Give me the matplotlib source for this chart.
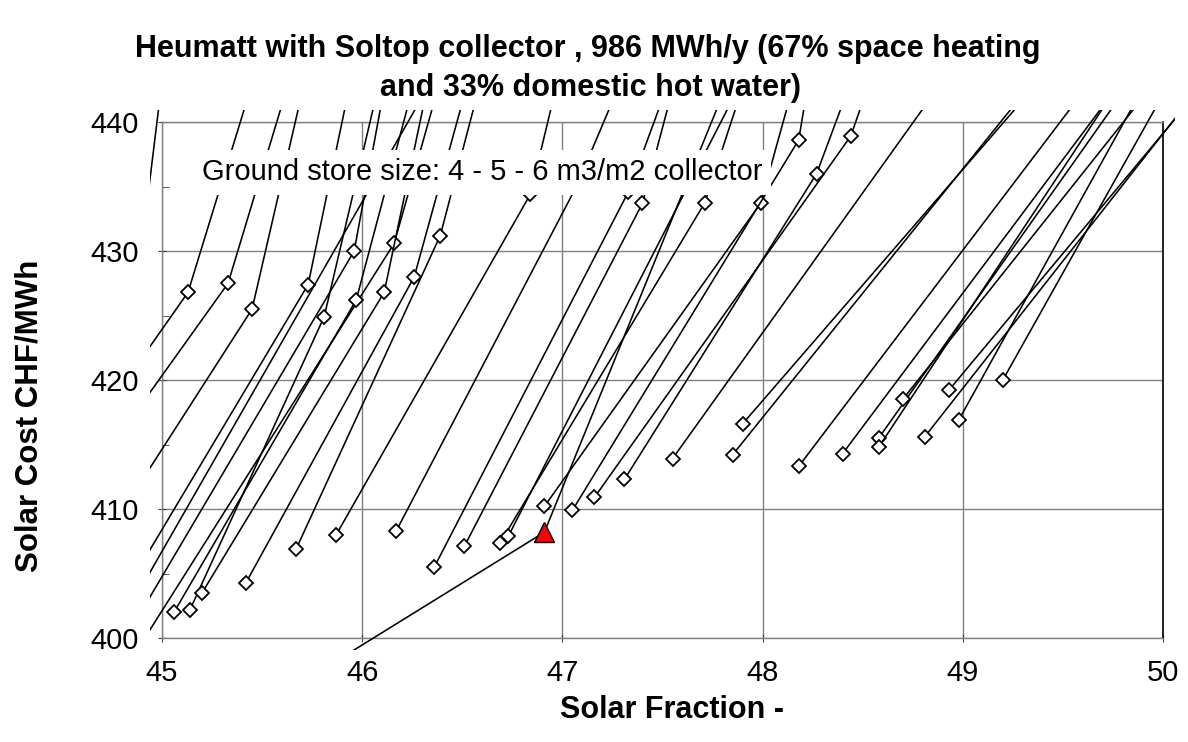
import matplotlib
matplotlib.use("Agg")
import matplotlib.pyplot as plt
import matplotlib.patches as mpatches
from matplotlib.ticker import MultipleLocator

plt.rcParams['font.family'] = ['Liberation Sans', 'DejaVu Sans']

# ---------------- data ----------------
title_line1 = "Heumatt with Soltop collector , 986 MWh/y (67% space heating"
title_line2 = "and 33% domestic hot water)"
x_label = "Solar Fraction -"
y_label = "Solar Cost CHF/MWh"
note = "Ground store size: 4 - 5 - 6 m3/m2 collector"
x_ticks = [45, 46, 47, 48, 49, 50]
y_ticks = [400, 410, 420, 430, 440]

# each series: solar fraction values and solar cost values (4 - 5 - 6 m3/m2)
series_sf = [
    [44.60, 44.90, 45.03],
    [44.80, 45.13, 45.51],
    [44.80, 45.33, 45.69],
    [44.80, 45.45, 45.755],
    [44.80, 45.73, 45.98],
    [44.80, 45.96, 46.15],
    [44.80, 46.16, 46.44],
    [44.80, 46.45],
    [45.14, 45.81, 46.13],
    [45.06, 45.97, 46.31],
    [45.20, 46.11, 46.37],
    [45.42, 46.26, 46.58],
    [45.67, 46.39, 46.64],
    [45.87, 46.84, 47.02],
    [46.17, 47.07, 47.37],
    [46.36, 47.33, 47.60],
    [46.51, 47.40, 47.61],
    [46.69, 47.71, 47.97],
    [46.91, 47.99, 48.21],
    [47.05, 48.18, 48.26],
    [47.31, 48.27, 48.51],
    [47.16, 48.44, 48.60],
    [46.73, 47.99],
    [47.55, 49.03],
    [47.85, 49.50],
    [47.90, 49.54],
    [48.18, 49.78],
    [48.40, 49.93],
    [48.58, 49.97],
    [48.58, 49.91],
    [48.70, 50.11],
    [48.81, 50.35],
    [48.93, 50.37],
    [48.98, 50.02],
    [49.20, 50.14],
]
series_cost = [
    [418.0, 430.5, 447.0],
    [419.5, 426.8, 446.0],
    [416.0, 427.5, 446.0],
    [409.8, 425.5, 446.0],
    [403.2, 427.4, 446.0],
    [399.5, 430.0, 446.0],
    [397.2, 430.6, 446.0],
    [401.3, 446.0],
    [402.2, 424.9, 446.0],
    [402.0, 426.2, 446.0],
    [403.5, 426.8, 446.0],
    [404.3, 428.0, 446.0],
    [406.9, 431.2, 446.0],
    [408.0, 434.4, 446.0],
    [408.3, 435.0, 446.0],
    [405.5, 434.6, 446.0],
    [407.1, 433.7, 446.0],
    [407.4, 433.7, 446.0],
    [410.2, 433.7, 446.0],
    [409.9, 438.6, 446.0],
    [412.3, 436.0, 446.0],
    [410.9, 438.9, 446.0],
    [407.9, 446.0],
    [413.9, 446.0],
    [414.2, 446.0],
    [416.6, 446.0],
    [413.3, 446.0],
    [414.3, 446.0],
    [415.5, 446.0],
    [414.8, 446.0],
    [418.5, 446.0],
    [415.6, 446.0],
    [419.2, 446.0],
    [416.9, 446.0],
    [420.0, 446.0],
]

# chosen system (red triangle)
chosen_sf = [45.90, 46.91, 47.85]
chosen_cost = [398.5, 408.2, 444.0]

# ---------------- figure ----------------
W, H = 1188, 742
fig = plt.figure(figsize=(W / 100, H / 100), dpi=100)
L, R, T, B = 162, 1163, 122, 638
ax = fig.add_axes([L / W, 1 - B / H, (R - L) / W, (B - T) / H])
ax.set_xlim(45, 50)
ax.set_ylim(400, 440)

ax.set_xticks(x_ticks)
ax.set_yticks(y_ticks)
ax.yaxis.set_minor_locator(MultipleLocator(5))
ax.tick_params(axis='both', which='major', labelsize=21, length=6,
               direction='inout', color='#404040')
ax.tick_params(axis='x', which='major', pad=12)
ax.tick_params(axis='y', which='major', pad=14)
ax.tick_params(axis='y', which='minor', length=5, direction='in', color='#404040')
ax.grid(True, which='major', color='#808080', lw=1.0, zorder=0)
ax.set_axisbelow(True)
for side in ['left', 'bottom', 'top']:
    ax.spines[side].set_color('#808080')
    ax.spines[side].set_linewidth(1.0)
ax.spines['right'].set_color('black')
ax.spines['right'].set_linewidth(1.2)

# clip region slightly larger than the plot area (as in the original)
px = 12 / (R - L)
py = 12 / (B - T)
clip = mpatches.Rectangle((-px, -py), 1 + 2 * px, 1 + 2 * py,
                          transform=ax.transAxes, facecolor='none', edgecolor='none')
ax.add_patch(clip)

for sx, sy in zip(series_sf, series_cost):
    ln, = ax.plot(sx, sy, color='black', lw=1.15, marker='D', ms=7.5,
                  mfc='white', mec='black', mew=1.3, zorder=3)
    ln.set_clip_path(clip)

ln, = ax.plot(chosen_sf, chosen_cost, color='black', lw=1.15, zorder=4)
ln.set_clip_path(clip)
mk, = ax.plot(chosen_sf[1:2], chosen_cost[1:2], linestyle='none', marker='^', ms=14,
              mfc='#ff0000', mec='black', mew=1.0, zorder=5)

ax.text(45.2, 436.1, note, fontsize=21, ha='left', va='center', zorder=10,
        bbox=dict(boxstyle='square,pad=0.3', facecolor='white', edgecolor='none'))

fig.text(588 / W, 1 - 49 / H, title_line1, ha='center', va='center', fontsize=22,
         fontweight='bold')
fig.text(591 / W, 1 - 88 / H, title_line2, ha='center', va='center', fontsize=22,
         fontweight='bold')
fig.text(672 / W, 1 - 710 / H, x_label, ha='center', va='center', fontsize=22,
         fontweight='bold')
fig.text(30 / W, 1 - 416 / H, y_label, ha='center', va='center', fontsize=22.5,
         fontweight='bold', rotation=90)

fig.savefig('out.png', dpi=100)
